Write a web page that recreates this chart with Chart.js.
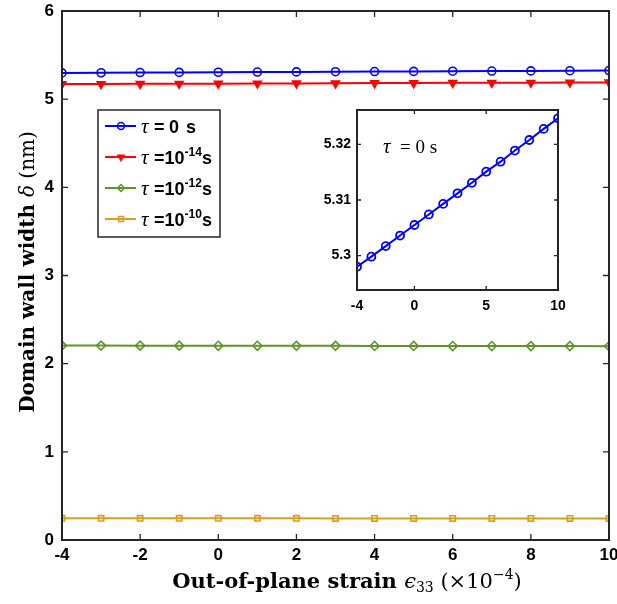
<!DOCTYPE html>
<html>
<head>
<meta charset="utf-8">
<script src="https://cdn.jsdelivr.net/npm/chart.js@4.4.1/dist/chart.umd.min.js"></script>
<style>
  html, body { margin: 0; padding: 0; background: #fff; }
  #wrap { position: relative; width: 617px; height: 604px; }
  #main { position: absolute; left: 0; top: 0; }
  #inset { position: absolute; left: 296px; top: 100px; }
</style>
</head>
<body>
<div id="wrap">
  <canvas id="main" width="617" height="604"></canvas>
  <canvas id="inset" width="280" height="220"></canvas>
</div>
<script>
// strain values (x 10^-4)
var strain = [-4, -3, -2, -1, 0, 1, 2, 3, 4, 5, 6, 7, 8, 9, 10];

// domain wall width (nm) for each relaxation time
var tau0  = [5.2980, 5.2998, 5.3017, 5.3036, 5.3055, 5.3074, 5.3093, 5.3112, 5.3131, 5.3151, 5.3169, 5.3189, 5.3208, 5.3228, 5.3247];
var tau14 = [5.171, 5.172, 5.174, 5.175, 5.176, 5.178, 5.179, 5.180, 5.182, 5.183, 5.185, 5.186, 5.187, 5.189, 5.190];
var tau12 = [2.205, 2.205, 2.204, 2.204, 2.203, 2.203, 2.202, 2.202, 2.201, 2.201, 2.200, 2.200, 2.199, 2.199, 2.198];
var tau10 = [0.246, 0.246, 0.246, 0.246, 0.246, 0.246, 0.246, 0.245, 0.245, 0.245, 0.245, 0.245, 0.245, 0.245, 0.245];

var seriesNames = ['0 s', '10', '10', '10'];
var seriesExp = ['', '-14', '-12', '-10'];

// tick labels
var xTicks = [-4, -2, 0, 2, 4, 6, 8, 10];
var yTicks = [0, 1, 2, 3, 4, 5, 6];
var insetXTicks = [-4, 0, 5, 10];
var insetYTicks = [5.30, 5.31, 5.32];

var BLUE = '#0000ff', RED = '#ff0000', GREEN = '#5f942a', GOLD = '#d6a01e';
var AXIS = '#262626';
var SANS = '"Liberation Sans", Arial, sans-serif';
var SERIF = '"DejaVu Serif", "Liberation Serif", serif';

function pts(ys) {
  return strain.map(function(x, i) { return {x: x, y: ys[i]}; });
}

function fixTicks(list) {
  return function(scale) {
    scale.ticks = list.map(function(v) { return {value: v}; });
  };
}

// box + inward ticks on all four sides, like a matlab axes
function boxPlugin(tickLen, lw) {
  return {
    id: 'box',
    afterDatasetsDraw: function(chart) {
      var ctx = chart.ctx, a = chart.chartArea;
      var xs = chart.scales.x, ys = chart.scales.y;
      ctx.save();
      ctx.strokeStyle = AXIS;
      ctx.lineWidth = lw;
      ctx.strokeRect(a.left, a.top, a.right - a.left, a.bottom - a.top);
      ctx.lineWidth = 1.3;
      ctx.beginPath();
      xs.ticks.forEach(function(t) {
        var px = xs.getPixelForValue(t.value);
        ctx.moveTo(px, a.bottom); ctx.lineTo(px, a.bottom - tickLen);
        ctx.moveTo(px, a.top); ctx.lineTo(px, a.top + tickLen);
      });
      ys.ticks.forEach(function(t) {
        var py = ys.getPixelForValue(t.value);
        ctx.moveTo(a.left, py); ctx.lineTo(a.left + tickLen, py);
        ctx.moveTo(a.right, py); ctx.lineTo(a.right - tickLen, py);
      });
      ctx.stroke();
      ctx.restore();
    }
  };
}

// draw a run of text pieces with different fonts
function richText(ctx, parts, cx, cy, rotate) {
  ctx.save();
  ctx.translate(cx, cy);
  if (rotate) ctx.rotate(-Math.PI / 2);
  var w = 0;
  parts.forEach(function(p) { ctx.font = p.f; w += ctx.measureText(p.t).width; });
  var x = -w / 2;
  ctx.fillStyle = '#000';
  ctx.textBaseline = 'alphabetic';
  ctx.textAlign = 'left';
  parts.forEach(function(p) {
    ctx.font = p.f;
    ctx.fillText(p.t, x, p.dy || 0);
    x += ctx.measureText(p.t).width;
  });
  ctx.restore();
}

var titlePlugin = {
  id: 'titles',
  afterDraw: function(chart) {
    var ctx = chart.ctx;
    richText(ctx, [
      {t: 'Out-of-plane strain ', f: 'bold 21px ' + SERIF},
      {t: '\u03f5', f: 'italic 21px ' + SERIF},
      {t: '33', f: '14px ' + SERIF, dy: 4},
      {t: ' (\u00d710', f: '21px ' + SERIF},
      {t: '\u22124', f: '14px ' + SERIF, dy: -9},
      {t: ')', f: '21px ' + SERIF}
    ], 347, 588, false);
    richText(ctx, [
      {t: 'Domain wall width ', f: 'bold 20px ' + SERIF},
      {t: '\u03b4', f: 'italic 20px ' + SERIF},
      {t: ' (nm)', f: '20px ' + SERIF}
    ], 34, 272, true);
  }
};

// legend drawn like the matlab one: line + marker + label
var legendPlugin = {
  id: 'mlegend',
  afterDraw: function(chart) {
    var ctx = chart.ctx;
    var bx = 98, by = 110, bw = 122, bh = 127;
    ctx.save();
    ctx.fillStyle = '#fff';
    ctx.fillRect(bx, by, bw, bh);
    ctx.strokeStyle = AXIS;
    ctx.lineWidth = 1.5;
    ctx.strokeRect(bx, by, bw, bh);
    var rows = [126, 157, 188, 219];
    chart.data.datasets.forEach(function(ds, i) {
      var y = rows[i];
      ctx.strokeStyle = ds.borderColor;
      ctx.lineWidth = 2;
      ctx.beginPath(); ctx.moveTo(105, y); ctx.lineTo(136, y); ctx.stroke();
      ctx.fillStyle = ds.pointBackgroundColor;
      ctx.strokeStyle = ds.borderColor;
      ctx.lineWidth = 1.5;
      Chart.helpers.drawPoint(ctx, {
        pointStyle: ds.pointStyle, radius: 3.5, rotation: ds.pointRotation || 0, borderWidth: 1.5
      }, 121, y);
      ctx.fillStyle = '#000';
      ctx.textBaseline = 'alphabetic';
      ctx.font = 'italic 21px "Liberation Serif", serif';
      ctx.fillText('\u03c4', 141, y + 7);
      var x = 154;
      ctx.font = 'bold 18px ' + SANS;
      if (i === 0) {
        ctx.fillText('=', x, y + 7);
        ctx.fillText('0', 169, y + 7);
        ctx.fillText('s', 186, y + 7);
      } else {
        ctx.fillText('=' + seriesNames[i], x, y + 7);
        x += ctx.measureText('=' + seriesNames[i]).width;
        ctx.font = 'bold 12px ' + SANS;
        ctx.fillText(seriesExp[i], x, y - 1);
        x += ctx.measureText(seriesExp[i]).width;
        ctx.font = 'bold 18px ' + SANS;
        ctx.fillText('s', x, y + 7);
      }
    });
    ctx.restore();
  }
};

function series(ys, color, style, rot, fill, r) {
  return {
    data: pts(ys),
    borderColor: color,
    backgroundColor: color,
    borderWidth: 2,
    pointStyle: style,
    pointRotation: rot,
    pointRadius: r,
    pointBorderWidth: 1.6,
    pointBorderColor: color,
    pointBackgroundColor: fill ? color : 'rgba(255,255,255,0)'
  };
}

new Chart(document.getElementById('main').getContext('2d'), {
  type: 'line',
  data: {
    datasets: [
      series(tau0, BLUE, 'circle', 0, false, 4),
      series(tau14, RED, 'triangle', 180, true, 4.5),
      series(tau12, GREEN, 'rectRot', 0, false, 4.5),
      series(tau10, GOLD, 'rect', 0, false, 3.8)
    ]
  },
  options: {
    responsive: false,
    animation: false,
    devicePixelRatio: 1,
    layout: { padding: { top: 11, right: 8, left: 0, bottom: 0 } },
    plugins: { legend: { display: false }, tooltip: { enabled: false } },
    elements: { line: { tension: 0 } },
    scales: {
      x: {
        type: 'linear', min: -4, max: 10,
        afterBuildTicks: fixTicks(xTicks),
        afterFit: function(s) { s.height = 64; s.paddingLeft = 0; s.paddingRight = 0; },
        grid: { display: false, drawTicks: false }, border: { display: false },
        ticks: { padding: 5, maxRotation: 0, color: '#000', font: { family: SANS, size: 17, weight: 'bold' },
          callback: function(v) { return String(v); } }
      },
      y: {
        type: 'linear', min: 0, max: 6,
        afterBuildTicks: fixTicks(yTicks),
        afterFit: function(s) { s.width = 62; s.paddingTop = 0; s.paddingBottom = 0; },
        grid: { display: false, drawTicks: false }, border: { display: false },
        ticks: { padding: 8, color: '#000', font: { family: SANS, size: 17, weight: 'bold' } }
      }
    }
  },
  plugins: [boxPlugin(6, 2), titlePlugin, legendPlugin]
});

// inset: tau = 0 s zoomed in
var labelPlugin = {
  id: 'insetLabel',
  afterDraw: function(chart) {
    var ctx = chart.ctx;
    ctx.save();
    ctx.fillStyle = '#000';
    ctx.textBaseline = 'alphabetic';
    ctx.font = 'italic 21px "Liberation Serif", serif';
    ctx.fillText('\u03c4', 87, 53);
    ctx.font = '19px "Liberation Serif", serif';
    ctx.fillText('= 0 s', 104, 53);
    ctx.restore();
  }
};

new Chart(document.getElementById('inset').getContext('2d'), {
  type: 'line',
  data: {
    datasets: [{
      data: pts(tau0),
      borderColor: BLUE,
      borderWidth: 2,
      pointStyle: 'circle',
      pointRadius: 4,
      pointBorderWidth: 1.8,
      pointBorderColor: BLUE,
      pointBackgroundColor: 'rgba(255,255,255,0)'
    }]
  },
  options: {
    responsive: false,
    animation: false,
    devicePixelRatio: 1,
    layout: { padding: { top: 10, right: 18, left: 0, bottom: 0 } },
    plugins: { legend: { display: false }, tooltip: { enabled: false } },
    elements: { line: { tension: 0 } },
    scales: {
      x: {
        type: 'linear', min: -4, max: 10,
        afterBuildTicks: fixTicks(insetXTicks),
        afterFit: function(s) { s.height = 30; s.paddingLeft = 0; s.paddingRight = 0; },
        grid: { display: false, drawTicks: false }, border: { display: false },
        ticks: { padding: 8, maxRotation: 0, color: '#000', font: { family: SANS, size: 14, weight: 'bold' } }
      },
      y: {
        type: 'linear', min: 5.2938, max: 5.3262,
        afterBuildTicks: fixTicks(insetYTicks),
        afterFit: function(s) { s.width = 61; s.paddingTop = 0; s.paddingBottom = 0; },
        grid: { display: false, drawTicks: false }, border: { display: false },
        ticks: { padding: 6, color: '#000', font: { family: SANS, size: 14, weight: 'bold' },
          callback: function(v) { return String(Math.round(v * 100) / 100); } }
      }
    }
  },
  plugins: [boxPlugin(4, 2), labelPlugin]
});
</script>
</body>
</html>
